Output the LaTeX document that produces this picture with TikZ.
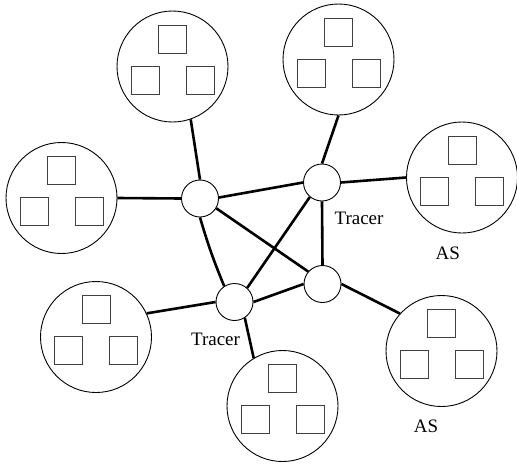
\documentclass[tikz,border=0pt]{standalone}
\usepackage{fontspec}
\setmainfont{Liberation Serif}
\begin{document}
\begin{tikzpicture}[x=1pt,y=-1pt,
 as/.style={circle,draw,line width=0.9pt,minimum size=111pt,inner sep=0pt},
 rt/.style={circle,draw,line width=0.9pt,minimum size=37pt,inner sep=0pt},
 host/.style={rectangle,draw=black!75,line width=0.9pt,minimum size=28pt,inner sep=0pt},
 link/.style={line width=2.6pt},
 lbl/.style={font=\fontsize{19}{22}\selectfont,inner sep=0pt}]
\useasboundingbox (0,0) rectangle (517,466);
% autonomous systems
\node[as] (tl) at (172.5,66.5) {};
\node[as] (l)  at (61.5,198) {};
\node[as] (tr) at (338.5,59.5) {};
\node[as] (r)  at (462,177.5) {};
\node[as] (ll) at (96,337) {};
\node[as] (b)  at (282.5,406) {};
\node[as] (lr) at (441.5,351) {};
\foreach \n in {tl,l,tr,r,ll,b,lr}{
  \node[host] (\n-a) at ([shift={(0,-27.5)}]\n) {};
  \node[host] (\n-b) at ([shift={(-27.5,13.5)}]\n) {};
  \node[host] (\n-c) at ([shift={(27.5,13.5)}]\n) {};
}
% routers
\node[rt] (R1) at (200,198.5) {};
\node[rt] (R2) at (322,182.5) {};
\node[rt] (R3) at (234.5,302) {};
\node[rt] (R4) at (322.5,284) {};
% links
\draw[link] (tl.-71) -- (R1.north);
\draw[link] (l.east) -- (R1.west);
\draw[link] (R1.3) -- (R2.180);
\draw[link] (R1.-31) -- (R4.139);
\draw[link] (R1.south) to[bend right=3] (R3.123);
\draw[link] (tr.south) -- (R2.north);
\draw[link] (R2.east) -- (r.west);
\draw[link] (R2.south) -- (R4.north);
\draw[link] (R2.-130) -- (R3.48);
\draw[link] (R3.east) -- (R4.west);
\draw[link] (ll.25) -- (R3.west);
\draw[link] (R3.-57) -- (b.121);
\draw[link] (R4.east) -- (lr.138);
% labels
\node[lbl] (t1) at (359,218) {Tracer};
\node[lbl] (t2) at (215.5,339) {Tracer};
\node[lbl] (a1) at (447.7,253.5) {AS};
\node[lbl] (a2) at (426,426.5) {AS};
\end{tikzpicture}
\end{document}
